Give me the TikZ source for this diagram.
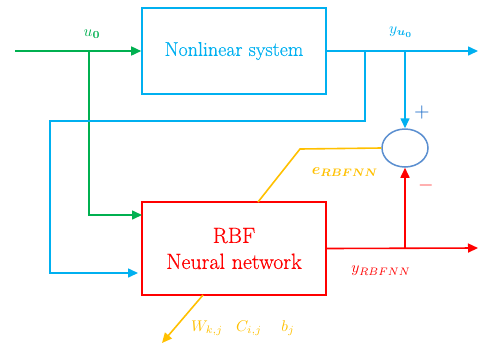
\documentclass[tikz,border=0pt]{standalone}
\usepackage{fontspec}
\newfontfamily\boxfont{Latin Modern Roman}[FakeBold=0.5]
\usepackage{graphicx}
\usepackage{bm}
\usetikzlibrary{arrows.meta,shapes.geometric}
\definecolor{skyb}{RGB}{0,176,240}
\definecolor{grn}{RGB}{0,176,80}
\definecolor{amber}{RGB}{255,192,0}
\definecolor{sumline}{RGB}{91,143,208}
\definecolor{plusb}{RGB}{30,110,200}
\definecolor{minusr}{RGB}{255,60,60}
% enlarged math label
\newcommand{\biglbl}[1]{\scalebox{1.55}{#1}}
\begin{document}
\begin{tikzpicture}[x=1pt,y=-1pt,
  wire/.style={line width=1.6pt},
  tip/.style={wire,-{Triangle[length=10pt,width=9pt]}},
  block/.style={draw,line width=1.6pt,minimum width=184pt,inner sep=0pt,align=center},
  lbl/.style={inner sep=0pt}]
\useasboundingbox (0,0) rectangle (482,349);

% blocks
\node[block,skyb,minimum height=86pt,font=\boxfont\fontsize{20}{24}\selectfont] (sys) at (234,51) {Nonlinear system};
\node[block,red,minimum height=93pt,font=\boxfont\fontsize{22}{26}\selectfont] (nn) at (234,248.5) {RBF\\Neural network};
\node[ellipse,draw=sumline,line width=1.5pt,fill=white,minimum width=46pt,minimum height=38pt,inner sep=0pt] (sum) at (405,148) {};

% junction and end points
\coordinate (uin) at (15,51);
\coordinate (gj) at (89,51);
\coordinate (nnu) at (142,215);
\coordinate (yout) at (478,51);
\coordinate (bj1) at (365,51);
\coordinate (bk1) at (365,121);
\coordinate (bk2) at (50,121);
\coordinate (nny) at (138,273);
\coordinate (bj2) at (405,51);
\coordinate (rout) at (478,248);
\coordinate (rj) at (405,248);
\coordinate (ek) at (300,149);
\coordinate (nntop) at (258,202);
\coordinate (nnbot) at (203,295);
\coordinate (wout) at (162,343);

% input u0
\draw[tip,grn] (uin) -- (sys.west);
\draw[tip,grn] (gj) |- (nnu);

% plant output
\draw[tip,skyb] (sys.east) -- (yout);
\draw[tip,skyb] (bj2) -- (sum.north);
\draw[tip,skyb] (bj1) -- (bk1) -- (bk2) |- (nny);

% network output
\draw[tip,red] (nn.east) -- (rout);
\draw[tip,red] (rj) -- (sum.south);

% error feedback and weight update
\draw[wire,amber] (sum.west) -- (ek) -- (nntop);
\draw[wire,amber,-{Triangle[length=10pt,width=9pt]}] (nnbot) -- (wout);

% labels
\node[lbl,grn] (lu) at (92,34) {\biglbl{$u_{\bm{0}}$}};
\node[lbl,skyb] (ly) at (401,32) {\biglbl{$y_{\bm{u_0}}$}};
\node[lbl,plusb] (lp) at (422,112) {\scalebox{2}{$+$}};
\node[lbl,minusr] (lm) at (426,185) {\scalebox{2}{$-$}};
\node[lbl,amber] (le) at (345,172) {\biglbl{$\bm{e}_{\bm{RBFNN}}$}};
\node[lbl,red] (lyr) at (381,271) {\biglbl{$y_{RBFNN}$}};
\node[lbl,amber] (lw) at (207,328) {\biglbl{$W_{k,j}$}};
\node[lbl,amber] (lc) at (249,328) {\biglbl{$C_{i,j}$}};
\node[lbl,amber] (lb) at (288,328) {\biglbl{$b_j$}};
\end{tikzpicture}
\end{document}
